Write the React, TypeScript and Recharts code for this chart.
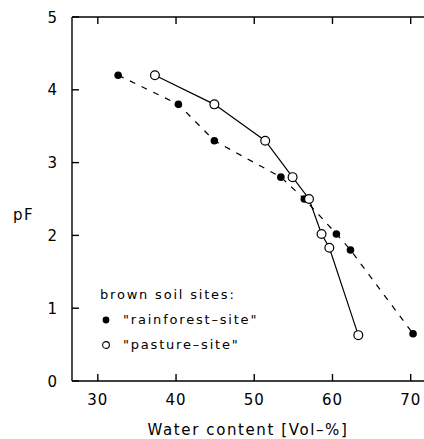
import React from 'react';
import { ScatterChart, Scatter, XAxis, YAxis, Legend } from 'recharts';

const rainforestWater = [32.6, 40.3, 44.9, 53.4, 56.4, 60.5, 62.3, 70.3];
const rainforestPF = [4.2, 3.8, 3.3, 2.8, 2.5, 2.02, 1.8, 0.65];
const pastureWater = [37.3, 44.9, 51.4, 54.9, 57.0, 58.6, 59.6, 63.3];
const pasturePF = [4.2, 3.8, 3.3, 2.8, 2.5, 2.02, 1.83, 0.63];
const xTicks = [30, 40, 50, 60, 70];
const yTicks = [0, 1, 2, 3, 4, 5];
const legendTitle = 'brown soil sites:';
const rainforestName = '"rainforest\u2013site"';
const pastureName = '"pasture\u2013site"';

const rainforest = rainforestWater.map((x, i) => ({ x, y: rainforestPF[i] }));
const pasture = pastureWater.map((x, i) => ({ x, y: pasturePF[i] }));

const FONT = '"DejaVu Sans", sans-serif';
const TICK_LEN = 7;
const TICK_COLOR = '#000';
const EPS = 0.001;

const FilledDot = (p: any) => <circle cx={p.cx} cy={p.cy} r={3.8} fill="#000" />;
const OpenDot = (p: any) => (
  <circle cx={p.cx} cy={p.cy} r={4.4} fill="#fff" stroke="#000" strokeWidth={1.2} />
);

const BottomTick = (p: any) => (
  <g>
    <rect x={p.x - 0.7} y={p.y - TICK_LEN} width={1.4} height={TICK_LEN} fill={TICK_COLOR} />
    <text
      x={p.x}
      y={p.y + 24}
      textAnchor="middle"
      fontFamily={FONT}
      fontSize={15}
      letterSpacing={1}
      fill="#000"
    >
      {p.payload.value}
    </text>
  </g>
);

const TopTick = (p: any) => (
  <rect x={p.x - 0.7} y={p.y} width={1.4} height={TICK_LEN} fill={TICK_COLOR} />
);

const LeftTick = (p: any) => (
  <g>
    <rect x={p.x} y={p.y - 0.7} width={TICK_LEN} height={1.4} fill={TICK_COLOR} />
    <text
      x={p.x - 15}
      y={p.y + 5.5}
      textAnchor="end"
      fontFamily={FONT}
      fontSize={15}
      fill="#000"
    >
      {p.payload.value}
    </text>
  </g>
);

const LegendBox = () => (
  <div style={{ fontFamily: FONT, fontSize: 13, letterSpacing: 1.8, color: '#000', lineHeight: '25px' }}>
    <div>{legendTitle}</div>
    <div style={{ display: 'flex', alignItems: 'center' }}>
      <svg width={23} height={12}>
        <circle cx={6} cy={6} r={3.4} fill="#000" />
      </svg>
      <span>{rainforestName}</span>
    </div>
    <div style={{ display: 'flex', alignItems: 'center' }}>
      <svg width={23} height={12}>
        <circle cx={6} cy={6} r={3.4} fill="#fff" stroke="#000" strokeWidth={1.1} />
      </svg>
      <span>{pastureName}</span>
    </div>
  </div>
);

export default function App() {
  return (
    <div style={{ position: 'absolute', left: 0, top: 0, width: 424, height: 439, background: '#fff' }}>
      <ScatterChart width={424} height={439} margin={{ top: 16, right: 0, bottom: 0, left: 0 }}>
        <XAxis
          xAxisId="bottom"
          dataKey="x"
          type="number"
          domain={[26.7, 71.7]}
          ticks={xTicks}
          allowDataOverflow
          orientation="bottom"
          height={58}
          tickSize={EPS}
          tickMargin={EPS}
          tickLine={false}
          axisLine={{ stroke: '#000', strokeWidth: 1.4 }}
          tick={BottomTick}
          label={{
            value: 'Water content [Vol\u2013%]',
            position: 'insideBottom',
            offset: 4,
            fill: '#000',
            fontFamily: FONT,
            fontSize: 15,
            letterSpacing: 1.6,
          }}
        />
        <XAxis
          xAxisId="top"
          dataKey="x"
          type="number"
          domain={[26.7, 71.7]}
          ticks={xTicks}
          allowDataOverflow
          orientation="top"
          height={1}
          tickSize={EPS}
          tickMargin={EPS}
          tickLine={false}
          tick={TopTick}
          axisLine={{ stroke: '#000', strokeWidth: 1.4 }}
        />
        <YAxis
          yAxisId="left"
          dataKey="y"
          type="number"
          domain={[0, 5]}
          ticks={yTicks}
          width={72}
          tickSize={EPS}
          tickMargin={EPS}
          tickLine={false}
          axisLine={{ stroke: '#000', strokeWidth: 1.4 }}
          tick={LeftTick}
          label={{
            value: 'pF',
            position: 'insideLeft',
            offset: 13,
            dy: 16,
            fill: '#000',
            fontFamily: FONT,
            fontSize: 15,
            letterSpacing: 1.5,
          }}
        />
        <Legend
          layout="vertical"
          align="center"
          verticalAlign="middle"
          content={() => <LegendBox />}
          wrapperStyle={{ position: 'absolute', left: 100, top: 282, width: 200 }}
        />
        <Scatter
          name="rainforest-site"
          xAxisId="bottom"
          yAxisId="left"
          data={rainforest}
          line={{ stroke: '#000', strokeWidth: 1.2, strokeDasharray: '6 7' }}
          shape={FilledDot}
          isAnimationActive={false}
        />
        <Scatter
          name="pasture-site"
          xAxisId="bottom"
          yAxisId="left"
          data={pasture}
          line={{ stroke: '#000', strokeWidth: 1.2 }}
          shape={OpenDot}
          isAnimationActive={false}
        />
      </ScatterChart>
    </div>
  );
}
